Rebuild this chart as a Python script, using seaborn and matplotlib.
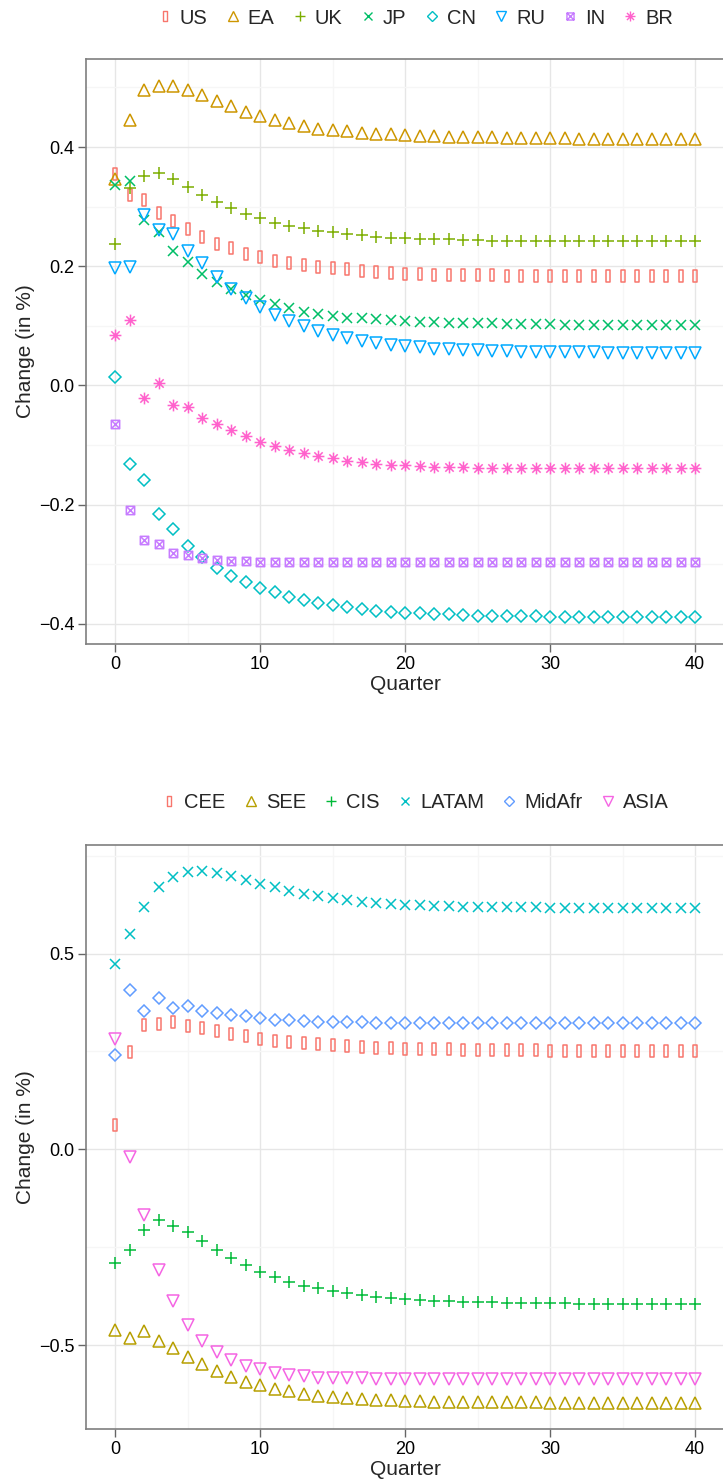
import numpy as np
import pandas as pd
import seaborn as sns
import matplotlib.pyplot as plt
from matplotlib.path import Path
from matplotlib.lines import Line2D
from matplotlib.ticker import MultipleLocator, FuncFormatter

quarters = list(range(41))

# --- top panel: countries ---
us = [0.354, 0.320, 0.311, 0.290, 0.276, 0.262, 0.249, 0.238, 0.230, 0.221,
      0.215, 0.209, 0.205, 0.202, 0.199, 0.197, 0.195, 0.192, 0.190, 0.189,
      0.187, 0.187, 0.186, 0.186, 0.185, 0.185, 0.185, 0.184, 0.184, 0.184,
      0.184, 0.184, 0.183, 0.183, 0.183, 0.183, 0.183, 0.183, 0.183, 0.183,
      0.183]
ea = [0.347, 0.445, 0.495, 0.503, 0.502, 0.496, 0.487, 0.477, 0.468, 0.459,
      0.452, 0.446, 0.440, 0.436, 0.431, 0.428, 0.426, 0.424, 0.422, 0.421,
      0.420, 0.419, 0.418, 0.417, 0.417, 0.416, 0.416, 0.415, 0.415, 0.415,
      0.415, 0.415, 0.414, 0.414, 0.414, 0.414, 0.414, 0.414, 0.414, 0.414,
      0.414]
uk = [0.237, 0.332, 0.351, 0.357, 0.346, 0.333, 0.320, 0.307, 0.298, 0.288,
      0.281, 0.273, 0.268, 0.264, 0.259, 0.257, 0.254, 0.252, 0.249, 0.248,
      0.247, 0.246, 0.245, 0.245, 0.244, 0.244, 0.243, 0.243, 0.243, 0.242,
      0.242, 0.242, 0.242, 0.242, 0.242, 0.242, 0.242, 0.242, 0.242, 0.242,
      0.242]
jp = [0.336, 0.343, 0.278, 0.258, 0.225, 0.207, 0.187, 0.174, 0.162, 0.152,
      0.143, 0.136, 0.130, 0.124, 0.120, 0.117, 0.114, 0.113, 0.111, 0.109,
      0.108, 0.107, 0.106, 0.105, 0.105, 0.104, 0.104, 0.103, 0.103, 0.103,
      0.103, 0.102, 0.102, 0.102, 0.102, 0.102, 0.102, 0.102, 0.102, 0.102,
      0.102]
cn = [0.014, -0.132, -0.158, -0.215, -0.240, -0.269, -0.287, -0.306, -0.319, -0.330,
      -0.339, -0.347, -0.354, -0.360, -0.364, -0.369, -0.372, -0.375, -0.378, -0.380,
      -0.381, -0.382, -0.383, -0.384, -0.385, -0.386, -0.386, -0.387, -0.387, -0.387,
      -0.388, -0.388, -0.388, -0.388, -0.388, -0.388, -0.388, -0.389, -0.389, -0.389,
      -0.389]
ru = [0.197, 0.199, 0.286, 0.261, 0.254, 0.225, 0.205, 0.182, 0.162, 0.146,
      0.131, 0.119, 0.108, 0.099, 0.091, 0.084, 0.079, 0.074, 0.071, 0.068,
      0.066, 0.064, 0.062, 0.061, 0.060, 0.059, 0.058, 0.058, 0.057, 0.057,
      0.056, 0.056, 0.056, 0.056, 0.055, 0.055, 0.055, 0.055, 0.055, 0.055,
      0.055]
ind = [-0.064, -0.209, -0.259, -0.266, -0.281, -0.285, -0.290, -0.293, -0.294, -0.295,
       -0.296, -0.296, -0.296, -0.296, -0.296, -0.296, -0.296, -0.296, -0.296, -0.296,
       -0.296, -0.296, -0.296, -0.296, -0.296, -0.296, -0.296, -0.296, -0.296, -0.296,
       -0.296, -0.296, -0.296, -0.296, -0.296, -0.296, -0.296, -0.296, -0.296, -0.296,
       -0.296]
br = [0.084, 0.109, -0.021, 0.004, -0.033, -0.036, -0.054, -0.064, -0.075, -0.085,
      -0.094, -0.102, -0.109, -0.114, -0.118, -0.122, -0.126, -0.128, -0.131, -0.133,
      -0.134, -0.135, -0.136, -0.137, -0.137, -0.138, -0.138, -0.138, -0.139, -0.139,
      -0.139, -0.139, -0.139, -0.139, -0.139, -0.139, -0.139, -0.139, -0.139, -0.139,
      -0.139]

# --- bottom panel: regions ---
cee = [0.063, 0.248, 0.318, 0.321, 0.324, 0.315, 0.309, 0.301, 0.295, 0.289,
       0.283, 0.277, 0.273, 0.271, 0.268, 0.266, 0.263, 0.262, 0.260, 0.258,
       0.257, 0.256, 0.255, 0.255, 0.254, 0.254, 0.253, 0.253, 0.253, 0.253,
       0.252, 0.252, 0.252, 0.252, 0.252, 0.252, 0.252, 0.252, 0.252, 0.252,
       0.252]
see = [-0.461, -0.482, -0.465, -0.489, -0.506, -0.530, -0.548, -0.566, -0.581, -0.593,
       -0.603, -0.612, -0.618, -0.624, -0.629, -0.633, -0.635, -0.638, -0.640, -0.641,
       -0.642, -0.643, -0.644, -0.644, -0.645, -0.645, -0.646, -0.646, -0.646, -0.646,
       -0.647, -0.647, -0.647, -0.647, -0.647, -0.647, -0.647, -0.647, -0.647, -0.647,
       -0.647]
cis = [-0.289, -0.256, -0.205, -0.181, -0.195, -0.212, -0.234, -0.257, -0.278, -0.296,
       -0.313, -0.326, -0.338, -0.348, -0.355, -0.362, -0.367, -0.371, -0.376, -0.379,
       -0.382, -0.384, -0.386, -0.388, -0.389, -0.390, -0.391, -0.392, -0.392, -0.393,
       -0.393, -0.393, -0.394, -0.394, -0.394, -0.394, -0.394, -0.394, -0.394, -0.394,
       -0.394]
latam = [0.474, 0.549, 0.620, 0.670, 0.695, 0.708, 0.710, 0.705, 0.699, 0.688,
         0.678, 0.669, 0.659, 0.653, 0.646, 0.641, 0.636, 0.632, 0.629, 0.627,
         0.625, 0.623, 0.622, 0.621, 0.620, 0.619, 0.619, 0.618, 0.618, 0.618,
         0.617, 0.617, 0.617, 0.617, 0.617, 0.617, 0.617, 0.617, 0.617, 0.617,
         0.617]
midafr = [0.242, 0.407, 0.352, 0.386, 0.361, 0.365, 0.352, 0.349, 0.344, 0.340,
          0.336, 0.331, 0.330, 0.328, 0.326, 0.325, 0.324, 0.324, 0.323, 0.323,
          0.322, 0.322, 0.322, 0.322, 0.322, 0.322, 0.322, 0.322, 0.322, 0.322,
          0.322, 0.322, 0.322, 0.322, 0.322, 0.322, 0.322, 0.322, 0.322, 0.322,
          0.322]
asia = [0.282, -0.020, -0.168, -0.308, -0.387, -0.449, -0.489, -0.517, -0.538, -0.553,
        -0.562, -0.571, -0.577, -0.580, -0.583, -0.584, -0.585, -0.585, -0.586, -0.586,
        -0.587, -0.587, -0.587, -0.587, -0.587, -0.587, -0.587, -0.587, -0.587, -0.587,
        -0.587, -0.587, -0.587, -0.587, -0.587, -0.587, -0.587, -0.587, -0.587, -0.587,
        -0.587]

top_names = ["US", "EA", "UK", "JP", "CN", "RU", "IN", "BR"]
top_values = [us, ea, uk, jp, cn, ru, ind, br]
top_colors = ["#F8766D", "#CD9600", "#7CAE00", "#00BE67",
              "#00BFC4", "#00A9FF", "#C77CFF", "#FF61CC"]

bot_names = ["CEE", "SEE", "CIS", "LATAM", "MidAfr", "ASIA"]
bot_values = [cee, see, cis, latam, midafr, asia]
bot_colors = ["#F8766D", "#B79F00", "#00BA38", "#00BFC4", "#619CFF", "#F564E3"]

# ggplot-like marker shapes
M, L, C = Path.MOVETO, Path.LINETO, Path.CLOSEPOLY
rect_marker = Path([(-0.22, -0.5), (0.22, -0.5), (0.22, 0.5), (-0.22, 0.5), (-0.22, -0.5)],
                   [M, L, L, L, C])
boxx_marker = Path([(-0.5, -0.5), (0.5, -0.5), (0.5, 0.5), (-0.5, 0.5), (-0.5, -0.5),
                    (-0.5, -0.5), (0.5, 0.5), (-0.5, 0.5), (0.5, -0.5)],
                   [M, L, L, L, C, M, L, M, L])
d = 0.3536
star_marker = Path([(0, -0.5), (0, 0.5), (-0.5, 0), (0.5, 0),
                    (-d, -d), (d, d), (-d, d), (d, -d)],
                   [M, L, M, L, M, L, M, L])

shapes = [(rect_marker, 8.0), ("^", 8), ("+", 8), ("x", 6.5),
          ("D", 6.0), ("v", 8), (boxx_marker, 6.0), (star_marker, 8.5)]

sns.set_theme(style="white")
plt.rcParams["font.family"] = ["Liberation Sans", "DejaVu Sans"]

fig = plt.figure(figsize=(7.23, 14.81), dpi=100)
ax_top = fig.add_axes([86 / 723, 1 - 644 / 1481, 638 / 723, 585 / 1481])
ax_bot = fig.add_axes([86 / 723, 1 - 1429.3 / 1481, 638 / 723, 584.6 / 1481])

minus_fmt = FuncFormatter(lambda v, pos: f"{v:.1f}".replace("-", "\u2212"))


def draw_panel(ax, names, values, colors, ymajor, legend_y):
    handles = []
    for name, vals, col, (mk, ms) in zip(names, values, colors, shapes):
        sns.lineplot(x=quarters, y=vals, ax=ax, marker=mk, markersize=ms,
                     linestyle="none", color=col, markerfacecolor="none",
                     markeredgecolor=col, markeredgewidth=1.1, errorbar=None)
        handles.append(Line2D([], [], marker=mk, markersize=ms * 0.85, linestyle="none",
                              markerfacecolor="none", markeredgecolor=col,
                              markeredgewidth=1.0, label=name))
    allv = np.concatenate([np.array(v) for v in values])
    lo, hi = allv.min(), allv.max()
    pad = 0.05 * (hi - lo)
    ax.set_ylim(lo - pad, hi + pad)
    ax.set_xlim(-2, 42)

    ax.xaxis.set_major_locator(MultipleLocator(10))
    ax.xaxis.set_minor_locator(MultipleLocator(5))
    ax.yaxis.set_major_locator(MultipleLocator(ymajor))
    ax.yaxis.set_minor_locator(MultipleLocator(ymajor / 2))
    ax.yaxis.set_major_formatter(minus_fmt)
    ax.grid(True, which="major", color="#E6E6E6", linewidth=1.0)
    ax.grid(True, which="minor", color="#F6F6F6", linewidth=1.0)
    ax.set_axisbelow(True)
    for sp in ax.spines.values():
        sp.set_color("#7F7F7F")
        sp.set_linewidth(1.2)
    ax.tick_params(which="major", direction="out", length=5.5, width=1.0,
                   color="#666666", labelsize=13, labelcolor="black", pad=3,
                   left=True, bottom=True)
    ax.tick_params(which="minor", length=0)
    ax.set_xlabel("Quarter", fontsize=15, labelpad=1.5)
    ax.set_ylabel("Change (in %)", fontsize=15, labelpad=3)

    fig.legend(handles=handles, loc="center", bbox_to_anchor=(415 / 723, 1 - legend_y / 1481),
               ncol=len(names), frameon=False, fontsize=14.5, handlelength=0.8,
               handletextpad=0.35, columnspacing=0.85, borderpad=0)


draw_panel(ax_top, top_names, top_values, top_colors, 0.2, 18)
draw_panel(ax_bot, bot_names, bot_values, bot_colors, 0.5, 803)

fig.savefig("out.png", dpi=100)
